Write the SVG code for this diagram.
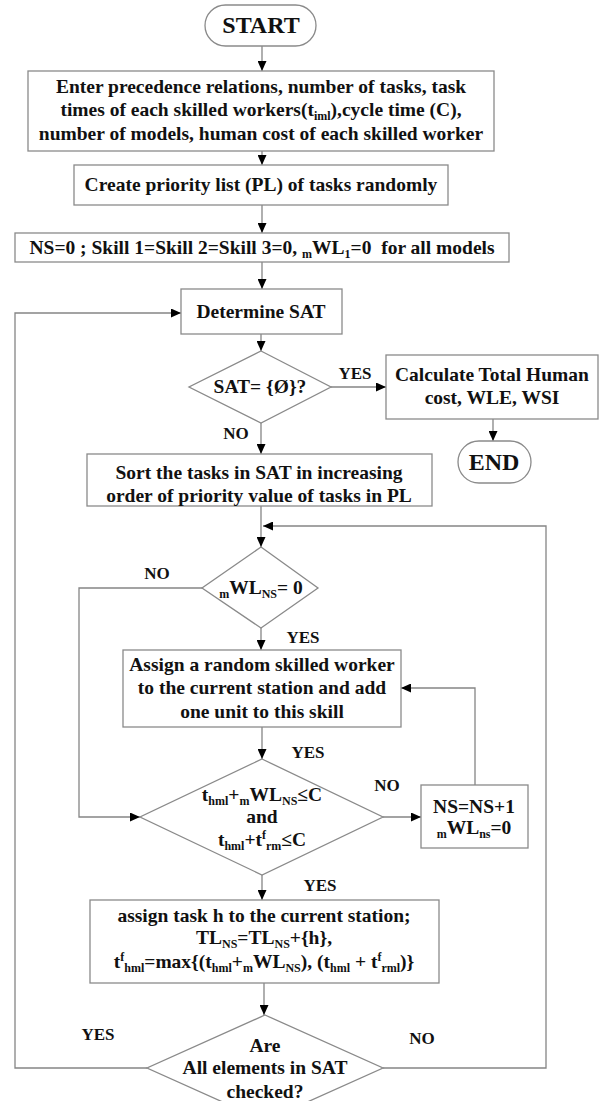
<svg xmlns="http://www.w3.org/2000/svg" width="616" height="1101" viewBox="0 0 616 1101">
<defs>
<style>
.b{fill:#fff;stroke:#8a8a8a;stroke-width:1.3}
.c{fill:none;stroke:#858585;stroke-width:1.3}
.t{font-family:"Liberation Serif","Times New Roman",serif;font-weight:bold;font-size:19.5px;fill:#111;text-anchor:middle}
.l{font-family:"Liberation Serif","Times New Roman",serif;font-weight:bold;font-size:17px;fill:#111;text-anchor:middle}
.big{font-size:24px}
.sub{font-size:12px;baseline-shift:-4px}
.sup{font-size:12px;baseline-shift:7px}
</style>
<marker id="a" markerWidth="10" markerHeight="9" refX="10" refY="4.5" orient="auto" markerUnits="userSpaceOnUse">
<path d="M0,0 L10,4.5 L0,9 Z" fill="#000"/>
</marker>
</defs>
<rect width="616" height="1101" fill="#fff"/>

<g id="connectors">
<line class="c" x1="262" y1="46" x2="262" y2="71" marker-end="url(#a)"/>
<line class="c" x1="262" y1="151" x2="262" y2="165" marker-end="url(#a)"/>
<line class="c" x1="262" y1="205" x2="262" y2="233" marker-end="url(#a)"/>
<line class="c" x1="262" y1="262" x2="262" y2="289" marker-end="url(#a)"/>
<line class="c" x1="261" y1="334" x2="261" y2="351" marker-end="url(#a)"/>
<line class="c" x1="331" y1="387" x2="386" y2="387" marker-end="url(#a)"/>
<line class="c" x1="493" y1="419" x2="493" y2="441" marker-end="url(#a)"/>
<line class="c" x1="261" y1="423" x2="261" y2="454" marker-end="url(#a)"/>
<line class="c" x1="261" y1="506" x2="261" y2="547" marker-end="url(#a)"/>
<polyline class="c" points="383,1068 546,1068 546,526 263,526" marker-end="url(#a)"/>
<polyline class="c" points="202,588 79,588 79,817 140,817" marker-end="url(#a)"/>
<line class="c" x1="261" y1="628" x2="261" y2="650" marker-end="url(#a)"/>
<line class="c" x1="262" y1="727" x2="262" y2="759" marker-end="url(#a)"/>
<line class="c" x1="383" y1="817" x2="421" y2="817" marker-end="url(#a)"/>
<polyline class="c" points="475,785 475,688 401,688" marker-end="url(#a)"/>
<line class="c" x1="262" y1="875" x2="262" y2="900" marker-end="url(#a)"/>
<line class="c" x1="264" y1="983" x2="264" y2="1015" marker-end="url(#a)"/>
<polyline class="c" points="147,1068 15,1068 15,313 181,313" marker-end="url(#a)"/>
<text class="l" x="355" y="379">YES</text>
<text class="l" x="236" y="439">NO</text>
<text class="l" x="157" y="579">NO</text>
<text class="l" x="303" y="643">YES</text>
<text class="l" x="308" y="758">YES</text>
<text class="l" x="387" y="791">NO</text>
<text class="l" x="320" y="891">YES</text>
<text class="l" x="98" y="1040">YES</text>
<text class="l" x="422" y="1044">NO</text>
</g>

<g id="start">
<rect class="b" x="205" y="5" width="111" height="41" rx="20.5"/>
<text class="t big" x="261" y="33">START</text>
</g>

<g id="input">
<rect class="b" x="28" y="71" width="466" height="80"/>
<text class="t" x="261" y="93">Enter precedence relations, number of tasks, task</text>
<text class="t" x="261" y="116">times of each skilled workers(t<tspan class="sub">iml</tspan>),cycle time (C),</text>
<text class="t" x="261" y="140">number of models, human cost of each skilled worker</text>
</g>

<g id="priority">
<rect class="b" x="74" y="165" width="374" height="40"/>
<text class="t" x="261" y="191">Create priority list (PL) of tasks randomly</text>
</g>

<g id="init">
<rect class="b" x="15" y="233" width="494" height="29"/>
<text class="t" x="262" y="254">NS=0 ; Skill 1=Skill 2=Skill 3=0, <tspan class="sub">m</tspan>WL<tspan class="sub">1</tspan>=0&#160; for all models</text>
</g>

<g id="determine">
<rect class="b" x="181" y="289" width="161" height="45"/>
<text class="t" x="261" y="318">Determine SAT</text>
</g>

<g id="satEmpty">
<polygon class="b" points="261,351 331,387 261,423 189,387"/>
<text class="t" x="260" y="393">SAT= {Ø}?</text>
</g>

<g id="calc">
<rect class="b" x="386" y="355" width="212" height="64"/>
<text class="t" x="492" y="381">Calculate Total Human</text>
<text class="t" x="492" y="404">cost, WLE, WSI</text>
</g>

<g id="end">
<rect class="b" x="458" y="441" width="73" height="42" rx="21"/>
<text class="t big" x="494" y="470">END</text>
</g>

<g id="sort">
<rect class="b" x="87" y="454" width="345" height="52"/>
<text class="t" x="259" y="479">Sort the tasks in SAT in increasing</text>
<text class="t" x="259" y="502">order of priority value of tasks in PL</text>
</g>

<g id="wlZero">
<polygon class="b" points="261,547 318,588 261,628 202,588"/>
<text class="t" x="261" y="594"><tspan class="sub">m</tspan>WL<tspan class="sub">NS</tspan>= 0</text>
</g>

<g id="assignWorker">
<rect class="b" x="123" y="650" width="278" height="77"/>
<text class="t" x="262" y="671">Assign a random skilled worker</text>
<text class="t" x="262" y="694">to the current station and add</text>
<text class="t" x="262" y="718">one unit to this skill</text>
</g>

<g id="check">
<polygon class="b" points="262,759 383,817 262,875 140,817"/>
<text class="t" x="262" y="801">t<tspan class="sub">hml</tspan>+<tspan class="sub">m</tspan>WL<tspan class="sub">NS</tspan>≤C</text>
<text class="t" x="262" y="823">and</text>
<text class="t" x="262" y="846">t<tspan class="sub">hml</tspan>+t<tspan class="sup">f</tspan><tspan class="sub">rm</tspan>≤C</text>
</g>

<g id="newStation">
<rect class="b" x="421" y="785" width="107" height="63"/>
<text class="t" x="474" y="813">NS=NS+1</text>
<text class="t" x="474" y="834"><tspan class="sub">m</tspan>WL<tspan class="sub">ns</tspan>=0</text>
</g>

<g id="assignTask">
<rect class="b" x="90" y="900" width="349" height="83"/>
<text class="t" x="264" y="922">assign task h to the current station;</text>
<text class="t" x="264" y="944">TL<tspan class="sub">NS</tspan>=TL<tspan class="sub">NS</tspan>+{h},</text>
<text class="t" x="264" y="968">t<tspan class="sup">f</tspan><tspan class="sub">hml</tspan>=max{(t<tspan class="sub">hml</tspan>+<tspan class="sub">m</tspan>WL<tspan class="sub">NS</tspan>), (t<tspan class="sub">hml</tspan> + t<tspan class="sup">f</tspan><tspan class="sub">rml</tspan>)}</text>
</g>

<g id="allChecked">
<polygon class="b" points="265,1015 383,1068 265,1121 147,1068"/>
<text class="t" x="265" y="1052">Are</text>
<text class="t" x="265" y="1074">All elements in SAT</text>
<text class="t" x="265" y="1098">checked?</text>
</g>
</svg>
